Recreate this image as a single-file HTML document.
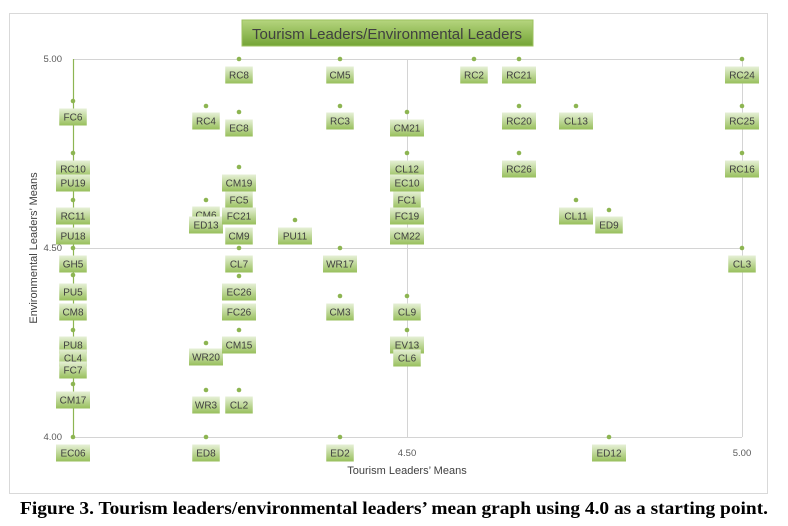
<!DOCTYPE html>
<html><head><meta charset="utf-8"><style>
body{margin:0;background:#fff;width:788px;height:526px;overflow:hidden}
svg{display:block}
</style></head><body>
<svg width="788" height="526" viewBox="0 0 788 526" xmlns="http://www.w3.org/2000/svg" font-family="Liberation Sans, sans-serif">
<defs>
<linearGradient id="g" x1="0" y1="0" x2="0" y2="1"><stop offset="0" stop-color="#e6f0d6"/><stop offset="1" stop-color="#98bf5c"/></linearGradient>
<linearGradient id="t" x1="0" y1="0" x2="0" y2="1"><stop offset="0" stop-color="#b5d57e"/><stop offset="1" stop-color="#74a436"/></linearGradient>
</defs>
<rect x="9.5" y="13.5" width="758" height="480" fill="#fff" stroke="#d9d9d9"/>
<g stroke="#d4d4d4" stroke-width="1">
<line x1="73" y1="59.5" x2="742" y2="59.5"/>
<line x1="73" y1="248.5" x2="742" y2="248.5"/>
<line x1="73" y1="437.5" x2="742" y2="437.5"/>
<line x1="407.5" y1="59" x2="407.5" y2="437"/>
<line x1="742.5" y1="59" x2="742.5" y2="437"/>
</g>
<line x1="73.5" y1="59" x2="73.5" y2="437" stroke="#8db552" stroke-width="1.2"/>
<rect x="242" y="20" width="291" height="26" fill="url(#t)" stroke="#9cc25f"/>
<text x="387" y="39" font-size="14.5" text-anchor="middle" fill="#404040" textLength="270" lengthAdjust="spacingAndGlyphs">Tourism Leaders/Environmental Leaders</text>
<g font-size="9.5" fill="#595959">
<text x="62" y="62" text-anchor="end">5.00</text>
<text x="62" y="251" text-anchor="end">4.50</text>
<text x="62" y="440" text-anchor="end">4.00</text>
<text x="407" y="456" text-anchor="middle">4.50</text>
<text x="742" y="456" text-anchor="middle">5.00</text>
</g>
<text x="407" y="474" font-size="11" text-anchor="middle" fill="#404040">Tourism Leaders’ Means</text>
<text transform="translate(37,248) rotate(-90)" font-size="11" text-anchor="middle" fill="#404040">Environmental Leaders’ Means</text>
<g id="pts" fill="#8db552"></g>
<g id="lbl"></g>
<text x="20" y="514" font-family="Liberation Serif, serif" font-weight="bold" font-size="18" fill="#000" textLength="748" lengthAdjust="spacingAndGlyphs">Figure 3. Tourism leaders/environmental leaders’ mean graph using 4.0 as a starting point.</text>
<script>
var P=[[73,101],[73,153],[73,200],[73,218],[73,248],[73,275],[73,330],[73,384],[73,437],
[206,106],[206,200],[206,343],[206,390],[206,437],
[239,59],[239,112],[239,167],[239,248],[239,276],[239,330],[239,390],
[295,220],[340,59],[340,106],[340,248],[340,296],[340,437],
[407,112],[407,153],[407,296],[407,330],
[474,59],[519,59],[519,106],[519,153],[576,106],[576,200],[609,210],[609,437],
[742,59],[742,106],[742,153],[742,248]];
var L=[[73,117,"FC6"],[73,169,"RC10"],[73,183,"PU19"],[73,216,"RC11"],[73,236,"PU18"],[73,264,"GH5"],[73,292,"PU5"],[73,312,"CM8"],[73,345,"PU8"],[73,358,"CL4"],[73,370,"FC7"],[73,400,"CM17"],[73,453,"EC06"],
[206,121,"RC4"],[206,215,"CM6"],[206,225,"ED13"],[206,357,"WR20"],[206,405,"WR3"],[206,453,"ED8"],
[239,75,"RC8"],[239,128,"EC8"],[239,183,"CM19"],[239,200,"FC5"],[239,216,"FC21"],[239,236,"CM9"],[239,264,"CL7"],[239,292,"EC26"],[239,312,"FC26"],[239,345,"CM15"],[239,405,"CL2"],
[295,236,"PU11"],[340,75,"CM5"],[340,121,"RC3"],[340,264,"WR17"],[340,312,"CM3"],[340,453,"ED2"],
[407,128,"CM21"],[407,169,"CL12"],[407,183,"EC10"],[407,200,"FC1"],[407,216,"FC19"],[407,236,"CM22"],[407,312,"CL9"],[407,345,"EV13"],[407,358,"CL6"],
[474,75,"RC2"],[519,75,"RC21"],[519,121,"RC20"],[519,169,"RC26"],[576,121,"CL13"],[576,216,"CL11"],[609,225,"ED9"],[609,453,"ED12"],
[742,75,"RC24"],[742,121,"RC25"],[742,169,"RC16"],[742,264,"CL3"]];
var ns="http://www.w3.org/2000/svg",pg=document.getElementById("pts"),lg=document.getElementById("lbl");
P.forEach(function(p){var c=document.createElementNS(ns,"circle");c.setAttribute("cx",p[0]);c.setAttribute("cy",p[1]);c.setAttribute("r",2.3);pg.appendChild(c);});
L.forEach(function(l){var w=l[2].length*6.5+8;var r=document.createElementNS(ns,"rect");r.setAttribute("x",l[0]-w/2);r.setAttribute("y",l[1]-8.5);r.setAttribute("width",w);r.setAttribute("height",17);r.setAttribute("fill","url(#g)");lg.appendChild(r);
var t=document.createElementNS(ns,"text");t.setAttribute("x",l[0]);t.setAttribute("y",l[1]+3.5);t.setAttribute("font-size","10");t.setAttribute("text-anchor","middle");t.setAttribute("fill","#404040");t.textContent=l[2];lg.appendChild(t);});
</script>
</svg>
</body></html>
